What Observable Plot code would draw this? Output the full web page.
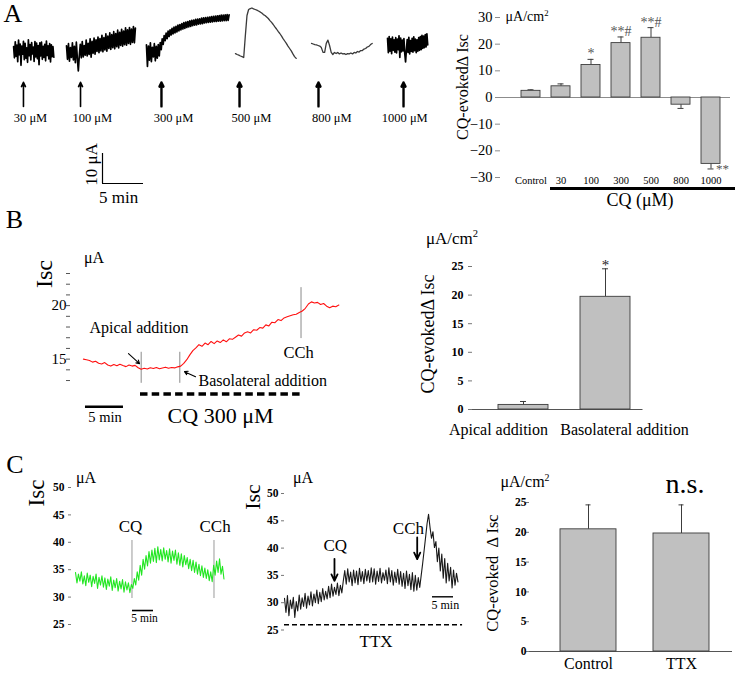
<!DOCTYPE html>
<html>
<head>
<meta charset="utf-8">
<script src="https://cdn.jsdelivr.net/npm/d3@7"></script>
<script src="https://cdn.jsdelivr.net/npm/@observablehq/plot@0.6"></script>
<style>
  html, body { margin: 0; padding: 0; background: #fff; }
  #fig { position: relative; width: 735px; height: 675px; overflow: hidden; background: #fff;
         font-family: "Liberation Serif", "Times New Roman", serif; color: #000; }
  .lbl { position: absolute; white-space: nowrap; line-height: 1; transform: translate(-50%, -50%); }
  .lbl sup { font-size: 0.62em; vertical-align: 0.6em; line-height: 0; }
</style>
</head>
<body>
<div id="fig"></div>
<script>
// ---------------- DATA ----------------
// Panel A: CQ dose traces (Isc, μA; sampled at a fixed step, time in min)
const doseLabels    = ["30 μM", "100 μM", "300 μM", "500 μM", "800 μM", "1000 μM"];
const doseAddTime   = [2.8, 9.76, 19.63, 29.15, 38.78, 49.15];
const doseLabelTime = [3.66, 11.2, 21.1, 30.6, 40.4, 49.3];
const traceStart    = [1.6, 8.05, 17.8, 28.66, 37.93, 47.2];
const traceStep     = [0.1, 0.12, 0.12, 0.2, 0.2, 0.1];

const isc30 = [54.6,50.9,56.2,51.4,55.1,49.6,56.8,51.9,55.5,48.4,54.8,52.1,56.4,50.3,55.7,50.8,54.2,49.4,56.9,51.6,
  55.3,50.2,56.0,52.2,54.5,49.7,56.3,51.2,55.8,50.6,55.0,48.6,55.9,51.5,56.1,50.4,54.7,51.0,55.4,49.9,
  56.5,51.7,54.9,50.5,55.6,49.5,55.2,51.3,54.6,51.1];
const isc100 = [54.9,50.4,55.6,49.8,54.3,51.0,55.9,50.2,54.7,49.3,56.1,50.8,46.5,51.6,55.4,50.9,56.3,51.2,55.0,51.8,
  56.8,51.5,55.7,52.0,57.2,51.1,56.4,52.4,57.5,52.1,56.9,53.0,57.8,52.6,57.3,53.2,58.4,52.9,57.6,53.5,
  58.9,53.1,58.1,54.0,59.2,53.7,58.6,54.3,59.6,53.9,59.0,54.6,60.1,54.2,59.4,55.0,60.4,54.8,59.8,55.3,
  60.9,55.1,60.2,55.7,61.0,55.4,60.5,56.0,61.3,55.9,60.8];
const isc300 = [55.2,48.0,54.8,50.1,55.9,49.6,54.4,51.2,55.6,49.9,54.7,50.8,55.3,51.5,56.0,
  53.6,57.2,55.4,58.3,56.6,59.1,
  57.3,59.8,58.0,60.2,58.5,60.7,58.9,61.1,59.2,61.4,
  59.5,61.8,59.9,62.0,60.2,62.3,60.5,62.6,60.7,62.8,61.0,63.0,61.2,63.2,61.4,
  63.4,61.6,63.5,61.8,63.7,61.9,63.8,62.1,63.9,62.2,64.1,62.3,64.2,62.5,64.3,62.6,64.4,62.7,64.5,62.8,
  64.6,62.9,64.7,63.0,64.8,63.0,64.9,63.1,65.0,63.1,65.1,63.2,65.1,63.3,65.2,63.3,65.3,63.4,65.2];
const isc500 = [52.3,52.0,51.8,51.5,51.3,51.0,58.3,65.0,67.0,67.3,67.5,67.2,67.0,66.8,66.5,66.2,65.8,65.3,65.0,64.5,
  64.0,63.3,62.7,62.0,61.2,60.5,59.7,59.0,58.2,57.3,56.5,55.7,54.8,54.0,53.2,52.2,51.3,50.7];
const isc800 = [55.7,55.5,55.3,55.2,55.0,54.8,54.3,52.7,52.7,55.7,56.8,55.0,52.7,52.0,52.7,52.3,52.7,52.2,52.5,52.2,
  52.3,52.0,52.3,52.2,52.5,52.2,52.7,52.5,53.0,52.8,53.3,53.3,53.8,54.0,54.5,54.7,55.3,55.7];
const isc1000 = [57.4,52.6,58.0,53.1,57.2,52.3,57.8,53.4,56.9,52.8,57.6,52.5,57.1,53.6,58.2,51.0,57.5,52.9,56.8,53.2,
  57.3,52.4,49.5,53.5,57.0,52.7,57.7,52.2,56.6,53.0,57.4,52.8,57.9,53.3,57.1,52.6,56.9,53.1,57.6,53.4,
  58.0,53.6,58.4,54.0,58.1,54.3,58.6,54.5,58.9,55.2];
const traces = [isc30, isc100, isc300, isc500, isc800, isc1000];

// Panel A: bar chart (CQ-evoked ΔIsc, μA/cm²)
const aCats  = ["Control", "30", "100", "300", "500", "800", "1000"];
const aMean  = [2.5, 4.2, 12.2, 20.4, 22.4, -2.7, -24.9];
const aSem   = [0.4, 0.9, 2.1, 2.3, 3.8, 1.4, 1.9];
const aSig   = ["", "", "*", "**#", "**#", "", "**"];
const aTicks = [-30, -20, -10, 0, 10, 20, 30];

// Panel B: apical vs basolateral trace (Isc, μA)
const bStart = 1.7, bStep = 0.4;
const bIsc = [15.00,14.95,14.88,14.72,14.80,14.62,14.55,14.68,14.45,14.35,14.50,14.38,14.52,14.40,14.30,14.45,14.35,14.42,14.20,14.05,
  14.15,14.08,14.20,14.12,14.22,14.10,14.18,14.25,14.15,14.22,14.18,14.28,14.35,14.60,14.95,15.40,15.80,16.05,16.35,16.20,
  16.50,16.35,16.65,16.45,16.70,16.55,16.80,16.62,16.90,16.85,17.05,17.25,17.15,17.45,17.55,17.45,17.75,17.70,17.95,17.90,
  18.20,18.10,18.45,18.40,18.70,18.60,18.85,18.95,19.05,19.15,19.20,19.35,19.50,19.75,20.15,20.35,20.25,20.30,20.10,20.20,
  19.95,19.80,19.95,19.90,20.05];
const bEvents = ["apical", "basolateral", "CCh"];
const bEventTime = [9.30, 14.38, 30.33];
const bTicks = [13,14,15,16,17,18,19,20,21,22,23];

// Panel B: bar chart
const bCats = ["Apical addition", "Basolateral addition"];
const bMean = [0.8, 19.7];
const bSem  = [0.6, 4.9];
const bSig  = ["", "*"];
const barTicks = [0, 5, 10, 15, 20, 25];

// Panel C: control trace (green) and TTX trace (black)
const c1Start = 0.95, c1Step = 0.35;
const c1Isc = [34.5,32.6,34.2,32.9,34.6,32.4,33.9,32.1,34.4,32.7,34.0,31.9,33.8,32.5,34.2,31.6,33.6,32.2,33.9,31.8,
  33.5,31.4,33.3,32.0,33.7,31.2,33.1,31.7,33.4,31.1,32.9,31.5,33.2,30.9,32.8,31.3,32.6,30.8,32.3,31.6,
  33.4,32.2,34.6,33.1,35.8,34.0,36.9,35.1,37.6,35.7,38.3,36.2,38.6,36.5,38.9,36.3,39.2,36.8,38.7,36.6,
  39.0,36.9,38.5,36.4,38.8,36.2,38.4,36.7,38.6,36.0,38.1,35.8,37.9,35.5,37.6,35.9,37.2,35.2,36.9,34.8,
  36.7,34.5,36.4,34.2,36.0,33.9,35.7,33.6,35.3,33.4,35.0,33.0,34.6,32.8,35.8,34.0,36.6,34.5,37.0,34.2,35.6,33.3];
const c1EventLabels = ["CQ", "CCh"];
const c1EventTime = [14.4, 33.93];

const c2Start = 0, c2Step = 0.35;
const c2Isc = [30.8,28.2,31.3,27.6,30.5,28.9,31.0,27.3,30.2,28.5,31.4,28.8,30.9,29.3,31.7,29.0,31.2,29.6,32.0,29.4,
  31.6,30.0,32.3,29.8,31.9,30.2,32.6,30.5,32.1,30.7,33.0,30.9,33.4,31.2,32.8,31.5,33.6,31.3,33.2,31.8,
  34.0,35.9,33.4,36.2,33.8,35.6,33.1,36.0,33.6,35.8,33.3,36.3,33.9,35.7,33.5,36.1,34.0,35.9,33.7,36.4,
  33.8,36.2,33.4,35.8,33.9,36.3,33.6,35.5,34.1,36.0,33.5,36.4,33.8,35.9,33.2,35.6,33.7,36.1,33.4,35.7,
  33.0,35.4,32.6,35.8,33.1,35.2,32.4,35.5,32.1,35.0,32.3,34.6,32.8,35.0,37.2,39.6,42.0,44.5,46.2,43.8,
  41.8,43.0,40.1,41.2,37.5,40.0,35.8,38.9,34.5,38.1,33.6,37.2,34.0,36.5,32.7,36.0,33.2,35.4,33.8];
const c2EventLabels = ["CQ", "CCh"];
const c2EventTime = [11.9, 31.6];
const cTraceTicks = [25, 30, 35, 40, 45, 50];

// Panel C: bar chart
const cCats = ["Control", "TTX"];
const cMean = [20.5, 19.8];
const cSem  = [4.1, 4.8];

// ---------------- DRAWING ----------------
const SERIF = '"Liberation Serif", "Times New Roman", serif';
const fig = document.getElementById("fig");
const baseStyle = {fontFamily: SERIF, background: "none", overflow: "visible", color: "#000"};
function put(svg, left, top) {
  svg.style.position = "absolute";
  svg.style.left = left + "px";
  svg.style.top = top + "px";
  fig.appendChild(svg);
}
function label(html, x, y, size, rot) {
  const d = document.createElement("div");
  d.className = "lbl";
  d.innerHTML = html;
  d.style.left = x + "px";
  d.style.top = y + "px";
  d.style.fontSize = size + "px";
  if (rot) d.style.transform = `translate(-50%, -50%) rotate(${rot}deg)`;
  fig.appendChild(d);
  return d;
}
const UACM = 'μA/cm<sup>2</sup>';

// ---- Panel A traces ----
const thin = k => k === 3 || k === 4;
const aTraceMarks = traces.map((v, k) => Plot.line(v, {
  x: (d, i) => traceStart[k] + i * traceStep[k], y: d => d,
  stroke: thin(k) ? "#3a3a3a" : "#000",
  strokeWidth: thin(k) ? 1.3 : 1.7
}));
const sbA = {t: 12.44, y: 9, dt: 5, dy: 10};
put(Plot.plot({
  width: 440, height: 210, margin: 0,
  style: baseStyle,
  x: {domain: [0, 53.66], axis: null},
  y: {domain: [0, 70], axis: null},
  marks: [
    ...aTraceMarks,
    Plot.arrow(doseAddTime, {x1: d => d, x2: d => d, y1: 34.7, y2: 42.7,
      stroke: "#000", strokeWidth: (d, i) => i < 2 ? 1.6 : 2.4, headLength: 7, headAngle: 50}),
    Plot.text(doseLabels, {x: (d, i) => doseLabelTime[i], y: 30.67, text: d => d, fontSize: 12.5}),
    Plot.ruleX([sbA.t], {y1: sbA.y, y2: sbA.y + sbA.dy, stroke: "#000", strokeWidth: 1.2}),
    Plot.ruleY([sbA.y], {x1: sbA.t, x2: sbA.t + sbA.dt, stroke: "#000", strokeWidth: 1.2}),
    Plot.text(["10 μA"], {x: 11.1, y: 15.33, text: d => d, rotate: -90, fontSize: 17}),
    Plot.text(["5 min"], {x: 14.4, y: 4.33, text: d => d, fontSize: 17})
  ]
}), 0, 0);

// ---- Panel A bar chart ----
const aIdx = d3.range(aCats.length);
const aEnd = i => aMean[i] + Math.sign(aMean[i]) * aSem[i];
put(Plot.plot({
  width: 295, height: 215, marginLeft: 60, marginRight: 5, marginTop: 17, marginBottom: 38,
  style: baseStyle,
  x: {type: "band", domain: aCats, paddingInner: 0.375, paddingOuter: 0.468, align: 0.684, axis: null},
  y: {domain: [-30, 30], axis: null},
  marks: [
    Plot.ruleY([0], {stroke: "#8c8c8c"}),
    Plot.ruleX(aIdx, {x: i => aCats[i], y1: i => aMean[i], y2: aEnd, stroke: "#3c3c3c"}),
    Plot.tickY(aIdx, {x: i => aCats[i], y: aEnd, stroke: "#3c3c3c", insetLeft: 6.5, insetRight: 6.5}),
    Plot.barY(aIdx, {x: i => aCats[i], y: i => aMean[i], fill: "#c0c0c0", stroke: "#3c3c3c", strokeWidth: 0.9}),
    Plot.text(aIdx.filter(i => aMean[i] > 0 && aSig[i]), {x: i => aCats[i], y: aEnd, text: i => aSig[i],
      lineAnchor: "bottom", dy: -1, fill: "#555", fontSize: 14}),
    Plot.text(aIdx.filter(i => aMean[i] < 0 && aSig[i]), {x: i => aCats[i], y: aEnd, text: i => aSig[i],
      textAnchor: "start", dx: 5, dy: 0, fill: "#555", fontSize: 13}),
    Plot.axisY({ticks: aTicks, tickSize: 5, tickPadding: 3, fontSize: 14.5, line: true, stroke: "#8c8c8c", label: null}),
    Plot.axisX({tickSize: 0, tickPadding: -1, fontSize: 10.5, label: null})
  ]
}), 440, 0);

// ---- Panel B trace ----
put(Plot.plot({
  width: 370, height: 190, marginLeft: 70, marginRight: 0, marginTop: 33, marginBottom: 43,
  style: baseStyle,
  x: {domain: [0, 39.47], axis: null},
  y: {domain: [12.35, 23], axis: null},
  marks: [
    Plot.ruleX(bEvents, {x: (d, i) => bEventTime[i], y1: (d, i) => i < 2 ? 12.74 : 16.92,
      y2: (d, i) => i < 2 ? 15.64 : 21.68, stroke: "#8a8a8a"}),
    Plot.line(bIsc, {x: (d, i) => bStart + i * bStep, y: d => d, stroke: "#ff1010", strokeWidth: 1.1}),
    Plot.axisY({ticks: bTicks, tickFormat: d => d % 5 === 0 ? d : "", tickSize: 4, tickPadding: 0,
      fontSize: 15, line: true, stroke: "#555", label: null}),
    Plot.text(["Apical addition"], {x: 2.5, y: 17.94, text: d => d, textAnchor: "start", fontSize: 16}),
    Plot.arrow([bEvents[0]], {x1: 7.63, y1: 15.51, x2: 9.08, y2: 14.58, stroke: "#000", strokeWidth: 1.1, headLength: 5}),
    Plot.text(["Basolateral addition"], {x: 16.84, y: 12.99, text: d => d, textAnchor: "start", fontSize: 16}),
    Plot.arrow([bEvents[1]], {x1: 16.45, y1: 13.36, x2: 15.0, y2: 13.83, stroke: "#000", strokeWidth: 1.1, headLength: 5}),
    Plot.text(["CCh"], {x: 30.0, y: 15.6, text: d => d, fontSize: 16.5}),
    Plot.ruleY([11.75], {x1: 9.21, x2: 30.66, stroke: "#000", strokeWidth: 3.5, strokeDasharray: "7.5,4.2"}),
    Plot.ruleY([10.56], {x1: 1.97, x2: 1.97 + 5, stroke: "#000", strokeWidth: 2.5}),
    Plot.text(["5 min"], {x: 4.54, y: 9.53, text: d => d, fontSize: 14.5}),
    Plot.text(["CQ 300 μM"], {x: 19.74, y: 9.72, text: d => d, fontSize: 22})
  ]
}), 0, 240);

// ---- Panel B bar chart ----
const bIdx = d3.range(bCats.length);
put(Plot.plot({
  width: 355, height: 215, marginLeft: 92, marginRight: 92.5, marginTop: 36, marginBottom: 36,
  style: baseStyle,
  x: {type: "band", domain: bCats, paddingInner: 0.394, paddingOuter: 0.23, align: 0.66, axis: null},
  y: {domain: [0, 25], axis: null},
  marks: [
    Plot.ruleY([0], {stroke: "#555"}),
    Plot.ruleX(bIdx, {x: i => bCats[i], y1: i => bMean[i], y2: i => bMean[i] + bSem[i], stroke: "#3c3c3c"}),
    Plot.tickY(bIdx, {x: i => bCats[i], y: i => bMean[i] + bSem[i], stroke: "#3c3c3c", insetLeft: 22, insetRight: 22}),
    Plot.barY(bIdx, {x: i => bCats[i], y: i => bMean[i], fill: "#c0c0c0", stroke: "#3c3c3c", strokeWidth: 0.9}),
    Plot.text(bIdx.filter(i => bSig[i]), {x: i => bCats[i], y: i => bMean[i] + bSem[i], text: i => bSig[i],
      lineAnchor: "bottom", dy: 1, fontSize: 15, fill: "#222"}),
    Plot.axisY({ticks: barTicks, tickSize: 4, tickPadding: 5, fontSize: 12, fontWeight: "bold",
      line: true, stroke: "#777", label: null}),
    Plot.text([bCats[0]], {x: d => d, y: 0, text: d => d, dx: -25, dy: 20, fontSize: 16}),
    Plot.text([bCats[1]], {x: d => d, y: 0, text: d => d, dx: 19, dy: 20, fontSize: 16})
  ]
}), 380, 230);

// ---- Panel C control trace ----
put(Plot.plot({
  width: 240, height: 200, marginLeft: 71, marginRight: 0, marginTop: 47, marginBottom: 16,
  style: baseStyle,
  x: {domain: [0, 40.24], axis: null},
  y: {domain: [25, 50], axis: null},
  marks: [
    Plot.ruleX(c1EventLabels, {x: (d, i) => c1EventTime[i], y1: 29.74, y2: 40.33, stroke: "#9a9a9a"}),
    Plot.line(c1Isc, {x: (d, i) => c1Start + i * c1Step, y: d => d, stroke: "#22e622", strokeWidth: 1.1}),
    Plot.axisY({ticks: cTraceTicks, tickSize: 3, tickPadding: 4, fontSize: 11.5, fontWeight: "bold",
      line: true, stroke: "#777", label: null}),
    Plot.text(c1EventLabels, {x: (d, i) => c1EventTime[i] - (i === 0 ? 0.35 : -0.25), y: 42.9, text: d => d, fontSize: 17}),
    Plot.ruleY([27.55], {x1: 14.52, x2: 14.52 + 5, stroke: "#000", strokeWidth: 1.6}),
    Plot.text(["5 min"], {x: 17.4, y: 26.2, text: d => d, fontSize: 11.5})
  ]
}), 0, 440);

// ---- Panel C TTX trace ----
put(Plot.plot({
  width: 245, height: 215, marginLeft: 44, marginRight: 0, marginTop: 53, marginBottom: 25.5,
  style: baseStyle,
  x: {domain: [0, 47.86], axis: null},
  y: {domain: [25, 50], axis: null},
  marks: [
    Plot.ruleY([25.95], {x1: 0, x2: 42.4, stroke: "#000", strokeWidth: 1.5, strokeDasharray: "5,3"}),
    Plot.line(c2Isc, {x: (d, i) => c2Start + i * c2Step, y: d => d, stroke: "#1a1a1a", strokeWidth: 1.1}),
    Plot.axisY({ticks: cTraceTicks, tickSize: 3, tickPadding: 3, fontSize: 11.5, fontWeight: "bold",
      line: true, stroke: "#777", label: null}),
    Plot.arrow(c2EventLabels, {x1: (d, i) => c2EventTime[i], x2: (d, i) => c2EventTime[i],
      y1: (d, i) => i === 0 ? 38.04 : 41.94, y2: (d, i) => i === 0 ? 34.0 : 37.98,
      stroke: "#000", strokeWidth: 1.8, headLength: 6, headAngle: 50}),
    Plot.text(c2EventLabels, {x: (d, i) => i === 0 ? 12.1 : 29.5, y: (d, i) => i === 0 ? 40.42 : 43.53,
      text: d => d, fontSize: 17}),
    Plot.ruleY([31.08], {x1: 35.24, x2: 35.24 + 5, stroke: "#000", strokeWidth: 1.4}),
    Plot.text(["5 min"], {x: 38.3, y: 29.6, text: d => d, fontSize: 12}),
    Plot.text(["TTX"], {x: 21.8, y: 22.84, text: d => d, fontSize: 17})
  ]
}), 240, 440);

// ---- Panel C bar chart ----
const cIdx = d3.range(cCats.length);
put(Plot.plot({
  width: 250, height: 205, marginLeft: 44, marginRight: 3, marginTop: 32, marginBottom: 24,
  style: baseStyle,
  x: {type: "band", domain: cCats, paddingInner: 0.394, paddingOuter: 0.277, align: 0.577, axis: null},
  y: {domain: [0, 25], axis: null},
  marks: [
    Plot.ruleY([0], {stroke: "#555"}),
    Plot.ruleX(cIdx, {x: i => cCats[i], y1: i => cMean[i], y2: i => cMean[i] + cSem[i], stroke: "#3c3c3c"}),
    Plot.tickY(cIdx, {x: i => cCats[i], y: i => cMean[i] + cSem[i], stroke: "#3c3c3c", insetLeft: 25.5, insetRight: 25.5}),
    Plot.barY(cIdx, {x: i => cCats[i], y: i => cMean[i], fill: "#c0c0c0", stroke: "#3c3c3c", strokeWidth: 0.9}),
    Plot.axisY({ticks: barTicks, tickSize: 3, tickPadding: 0, fontSize: 11.5, fontWeight: "bold",
      line: true, stroke: "#777", label: null}),
    Plot.axisX({tickSize: 0, tickPadding: 6, fontSize: 16, label: null})
  ]
}), 485, 470);

// ---- Titles, axis titles, units ----
label("A", 13, 14, 26);
label("B", 14.5, 220, 26);
label("C", 15, 465, 26);

label(UACM, 527, 17, 14);
label("CQ-evokedΔ Isc", 463, 87, 16, -90);
const ul = document.createElement("div");
ul.style.cssText = "position:absolute;left:550px;top:187px;width:185px;height:2.5px;background:#000;";
fig.appendChild(ul);
label("CQ (μM)", 640, 200, 18);

label("Isc", 44, 274, 24, -90);
label("μA", 94, 258, 16);
label("CQ-evokedΔ Isc", 428, 334, 18, -90);
label(UACM, 452, 238, 17);

label("Isc", 36, 493, 23, -90);
label("μA", 86, 478, 16);
label("Isc", 253, 497, 22, -90);
label("μA", 303, 478, 16);
label("CQ-evoked&nbsp; Δ Isc", 493, 573, 16.5, -90);
label(UACM, 525, 482, 16);
label("n.s.", 685, 483.5, 28);
</script>
</body>
</html>
